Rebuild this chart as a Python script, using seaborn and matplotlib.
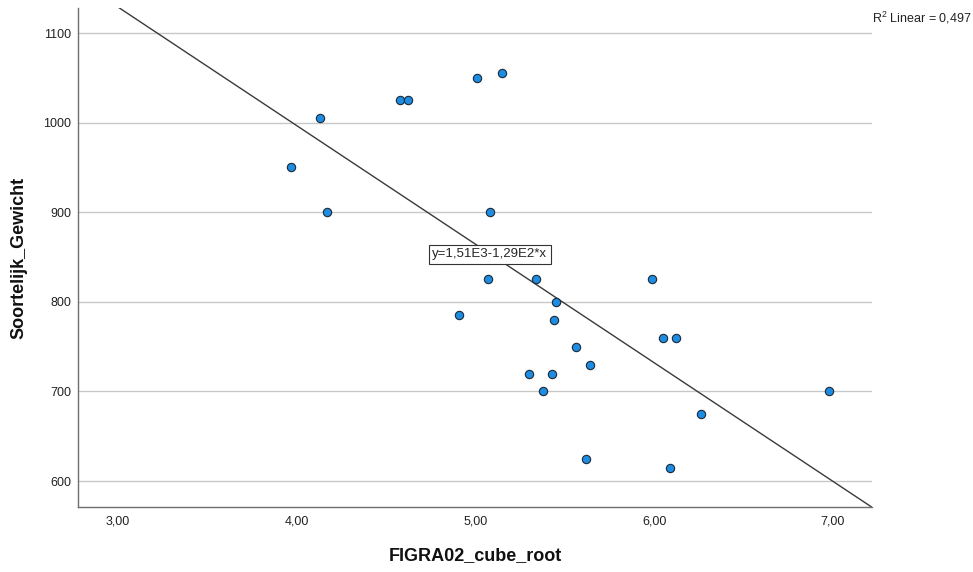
import numpy as np
import pandas as pd
import matplotlib
matplotlib.use("Agg")
import matplotlib.pyplot as plt
import seaborn as sns

figra = [3.97, 4.13, 4.17, 4.58, 4.62, 4.91, 5.01, 5.07, 5.08, 5.15, 5.30, 5.34, 5.38, 5.43,
         5.44, 5.45, 5.56, 5.62, 5.64, 5.99, 6.05, 6.09, 6.12, 6.26, 6.98]
gewicht = [950, 1005, 900, 1025, 1025, 785, 1050, 825, 900, 1055, 720, 825, 700, 720,
           780, 800, 750, 625, 730, 825, 760, 615, 760, 675, 700]
x_ticks = [3, 4, 5, 6, 7]
x_tick_labels = ["3,00", "4,00", "5,00", "6,00", "7,00"]
y_ticks = [600, 700, 800, 900, 1000, 1100]
eq_label = "y=1,51E3-1,29E2*x"
r2_label = "R$^2$ Linear = 0,497"

df = pd.DataFrame({"FIGRA02_cube_root": figra, "Soortelijk_Gewicht": gewicht})

sns.set_style("white")
plt.rcParams["font.family"] = ["Liberation Sans", "DejaVu Sans"]
plt.rcParams["mathtext.fontset"] = "custom"
plt.rcParams["mathtext.rm"] = "Liberation Sans"

fig = plt.figure(figsize=(9.73, 5.72), dpi=100)
ax = fig.add_axes([0.0802, 0.1136, 0.816, 0.8724])
ax.set_xlim(2.777, 7.218)
ax.set_ylim(571, 1128)

for yv in y_ticks:
    ax.axhline(yv, color="#c8c8c8", lw=1.0, zorder=0)

sns.regplot(data=df, x="FIGRA02_cube_root", y="Soortelijk_Gewicht", ax=ax, ci=None,
            truncate=False, scatter=False, line_kws=dict(color="#3a3a3a", lw=1.0, zorder=2))
sns.scatterplot(data=df, x="FIGRA02_cube_root", y="Soortelijk_Gewicht", ax=ax,
                color="#1e8ce0", edgecolor="#1a2a3a", linewidth=0.8, s=36, zorder=3)
ax.set_xlim(2.777, 7.218)
ax.set_ylim(571, 1128)

ax.set_xticks(x_ticks)
ax.set_xticklabels(x_tick_labels)
ax.set_yticks(y_ticks)
ax.set_yticklabels([str(v) for v in y_ticks])
ax.tick_params(axis="both", length=0, labelsize=9, colors="#222222")
ax.tick_params(axis="x", pad=6)
ax.tick_params(axis="y", pad=5)

for s in ["top", "right"]:
    ax.spines[s].set_visible(False)
for s in ["left", "bottom"]:
    ax.spines[s].set_color("#6e6e6e")
    ax.spines[s].set_linewidth(1.0)

ax.set_xlabel("FIGRA02_cube_root", fontsize=13, fontweight="bold", labelpad=14, color="#111111")
ax.set_ylabel("Soortelijk_Gewicht", fontsize=13, fontweight="bold", labelpad=11, color="#111111")

ax.text(5.08, 853, eq_label, fontsize=9.5, ha="center", va="center", zorder=4,
        bbox=dict(boxstyle="square,pad=0.25", fc="white", ec="#333333", lw=0.8))
fig.text(0.896, 0.969, r2_label, fontsize=9, ha="left", va="center", color="#222222")

fig.savefig("out.png", dpi=100)
